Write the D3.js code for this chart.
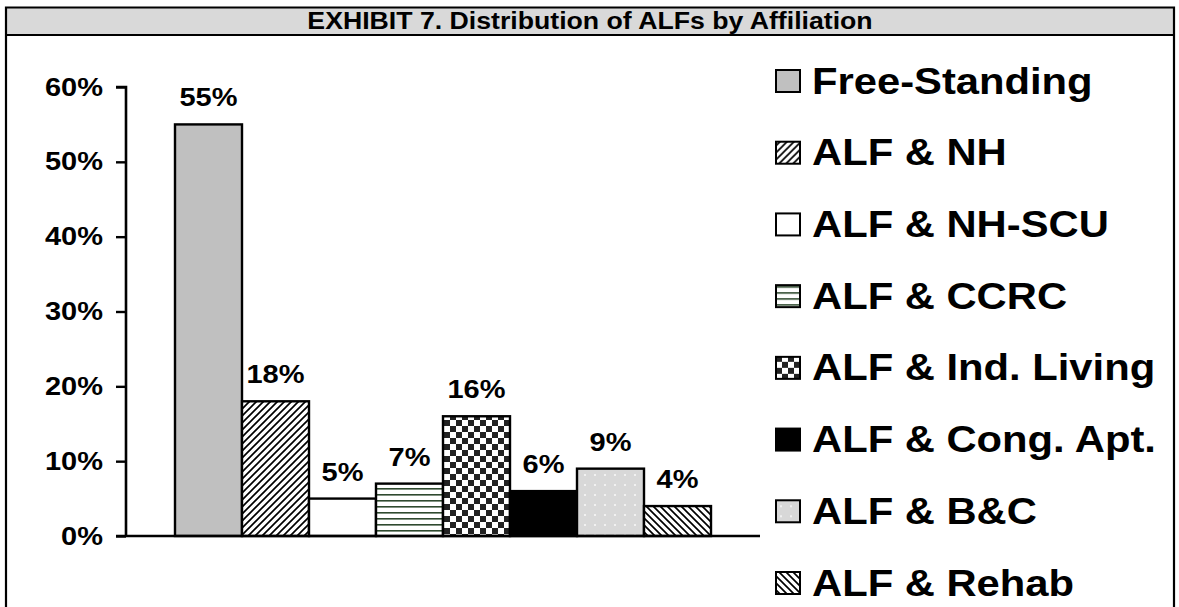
<!DOCTYPE html>
<html>
<head>
<meta charset="utf-8">
<script src="https://cdn.jsdelivr.net/npm/d3@7"></script>
<style>
  html, body { margin: 0; padding: 0; background: #fff; }
  svg { display: block; }
  text { font-family: "Liberation Sans", Arial, sans-serif; font-weight: bold; fill: #000; }
</style>
</head>
<body>
<svg id="chart" width="1179" height="607"></svg>
<script>
// Share of assisted living facilities by affiliation type
const categories = ["Free-Standing", "ALF & NH", "ALF & NH-SCU", "ALF & CCRC",
                    "ALF & Ind. Living", "ALF & Cong. Apt.", "ALF & B&C", "ALF & Rehab"];
const values = [55, 18, 5, 7, 16, 6, 9, 4];
const tickValues = [0, 10, 20, 30, 40, 50, 60];
const tickLabels = ["0%", "10%", "20%", "30%", "40%", "50%", "60%"];
const titleText = "EXHIBIT 7. Distribution of ALFs by Affiliation";
// fill id for each series, in series order
const fills = ["solidGray", "hatchFwd", "plainWhite", "hLines", "checker", "solidBlack", "dots", "hatchBack"];

const W = 1179, H = 607;
const SX = 1.16; // glyphs are drawn slightly widened
const svg = d3.select("#chart");
const defs = svg.append("defs");

// forward diagonal hatch
const pf = defs.append("pattern").attr("id", "hatchFwd").attr("patternUnits", "userSpaceOnUse")
  .attr("width", 7).attr("height", 7);
pf.append("rect").attr("width", 7).attr("height", 7).attr("fill", "#fff");
pf.append("path").attr("d", "M-2,2 L2,-2 M0,7 L7,0 M5,9 L9,5")
  .attr("stroke", "#000").attr("stroke-width", 1.7);

// backward diagonal hatch
const pb = defs.append("pattern").attr("id", "hatchBack").attr("patternUnits", "userSpaceOnUse")
  .attr("width", 7).attr("height", 7);
pb.append("rect").attr("width", 7).attr("height", 7).attr("fill", "#fff");
pb.append("path").attr("d", "M-2,5 L2,9 M0,0 L7,7 M5,-2 L9,2")
  .attr("stroke", "#000").attr("stroke-width", 1.7);

// horizontal lines
const ph = defs.append("pattern").attr("id", "hLines").attr("patternUnits", "userSpaceOnUse")
  .attr("width", 6).attr("height", 6);
ph.append("rect").attr("width", 6).attr("height", 6).attr("fill", "#fff");
ph.append("rect").attr("y", 2).attr("width", 6).attr("height", 1.6).attr("fill", "#2f4a2f");

// checkerboard
const pc = defs.append("pattern").attr("id", "checker").attr("patternUnits", "userSpaceOnUse")
  .attr("width", 12).attr("height", 12);
pc.append("rect").attr("width", 12).attr("height", 12).attr("fill", "#fff");
pc.append("rect").attr("width", 6).attr("height", 6).attr("fill", "#222");
pc.append("rect").attr("x", 6).attr("y", 6).attr("width", 6).attr("height", 6).attr("fill", "#222");

// light dotted fill
const pd = defs.append("pattern").attr("id", "dots").attr("patternUnits", "userSpaceOnUse")
  .attr("width", 10).attr("height", 10);
pd.append("rect").attr("width", 10).attr("height", 10).attr("fill", "#d8d8d8");
pd.append("path").attr("d", "M4,5 H6 M5,4 V6").attr("stroke", "#fafafa").attr("stroke-width", 1);

const fillFor = id => id === "solidGray" ? "#c0c0c0"
  : id === "solidBlack" ? "#000"
  : id === "plainWhite" ? "#fff"
  : `url(#${id})`;

// frame and title band
svg.append("rect").attr("x", 6).attr("y", 8).attr("width", 1168).attr("height", 27)
  .attr("fill", "#d9d9d9");
svg.append("path")
  .attr("d", `M6,${H + 5} V7.5 H1174 V${H + 5} M6,35 H1174`)
  .attr("fill", "none").attr("stroke", "#000").attr("stroke-width", 2.2);
svg.append("text").attr("transform", `translate(590,29) scale(${SX},1)`)
  .attr("text-anchor", "middle")
  .style("font-size", "23px").text(titleText);

// scales
const y = d3.scaleLinear().domain([0, 60]).range([536, 87]);
const x = d3.scaleBand().domain(categories).range([175, 711]).padding(0);
const axisLeft = 126, axisRight = 760;

// bars
svg.append("g").selectAll("rect").data(values).join("rect")
  .attr("x", (d, i) => x(categories[i]))
  .attr("y", d => y(d))
  .attr("width", x.bandwidth())
  .attr("height", d => y(0) - y(d))
  .attr("fill", (d, i) => fillFor(fills[i]))
  .attr("stroke", "#000").attr("stroke-width", 2.4);

// value labels
svg.append("g").selectAll("text").data(values).join("text")
  .attr("transform", (d, i) =>
    `translate(${x(categories[i]) + x.bandwidth() / 2},${y(d) - 18}) scale(${SX},1)`)
  .attr("text-anchor", "middle")
  .style("font-size", "25px")
  .text(d => d + "%");

// y axis
const yAxis = d3.axisLeft(y).tickValues(tickValues).tickSize(10).tickPadding(0)
  .tickFormat((d, i) => tickLabels[i]);
const gy = svg.append("g").attr("transform", `translate(${axisLeft},0)`).call(yAxis);
gy.select(".domain").attr("stroke", "#000").attr("stroke-width", 2.6).attr("d", `M-10,${y(60)}H0V${y(0)}`);
gy.selectAll(".tick line").attr("stroke", "#000").attr("stroke-width", 2.4);
gy.selectAll(".tick text")
  .attr("x", -23 / SX)
  .attr("transform", `scale(${SX},1)`)
  .style("font-size", "25px").style("font-family", "Liberation Sans, Arial, sans-serif")
  .style("font-weight", "bold").attr("fill", "#000");

// x axis baseline
svg.append("line").attr("x1", axisLeft - 10).attr("x2", axisRight)
  .attr("y1", y(0)).attr("y2", y(0)).attr("stroke", "#000").attr("stroke-width", 2.6);

// legend
const legY = d3.scalePoint().domain(categories).range([81, 583]);
const leg = svg.append("g").selectAll("g").data(categories).join("g")
  .attr("transform", d => `translate(776,${legY(d)})`);
leg.append("rect").attr("x", 0).attr("y", -11).attr("width", 24).attr("height", 22)
  .attr("fill", (d, i) => fillFor(fills[i])).attr("stroke", "#000").attr("stroke-width", 2);
leg.append("text").attr("transform", `translate(36,12.5) scale(${SX},1)`)
  .style("font-size", "36px").text(d => d);
</script>
</body>
</html>
